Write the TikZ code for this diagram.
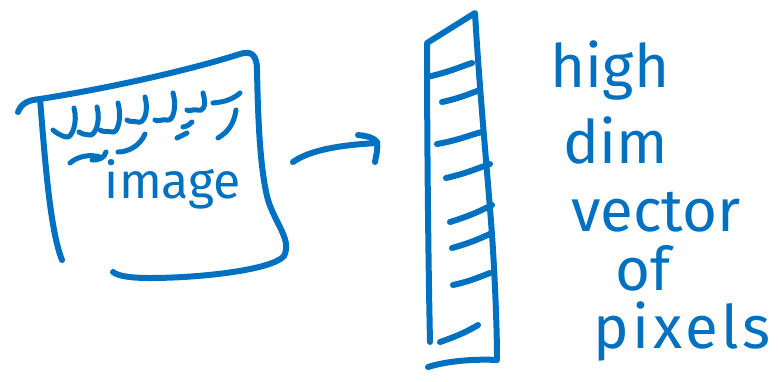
\documentclass[tikz,border=0pt]{standalone}
\usepackage{fontspec}
\setmainfont{Fira Sans}
\definecolor{ink}{RGB}{0,112,192}
\begin{document}
\begin{tikzpicture}[x=1pt,y=-1pt,
  pen/.style={draw=ink,line width=6pt,line cap=round,line join=round},
  thin pen/.style={draw=ink,line width=5pt,line cap=round,line join=round},
  hand/.style={text=ink,font=\fontsize{60}{60}\selectfont,anchor=base,inner sep=0pt}]
\useasboundingbox (0,0) rectangle (778,381);
% image sheet
\draw[pen] (18,112) .. controls (22,102) and (30,100) .. (40,99);
\draw[pen] (40,99) .. controls (45,160) and (50,230) .. (62,260);
\draw[pen] (40,99) .. controls (110,88) and (190,70) .. (240,54)
  .. controls (252,50) and (257,56) .. (257,70)
  .. controls (258,120) and (260,170) .. (268,200)
  .. controls (276,225) and (292,240) .. (284,256)
  .. controls (272,270) and (200,278) .. (150,278)
  .. controls (130,278) and (118,276) .. (113,272);
% squiggles row 1
\foreach \tx/\ty/\bx/\by/\lx/\ly in {74/108/66/137/53/130, 97/107/89/135/79/132, 118/103/112/132/100/130, 145/97/138/122/127/120, 173/93/167/120/155/120, 203/93/197/110/187/110}{
  \draw[thin pen] (\tx,\ty) .. controls (\tx+4,\ty+14) and (\bx+6,\by+2) .. (\bx,\by) .. controls (\bx-5,\by-1) and (\lx+2,\ly+2) .. (\lx,\ly);
}
\draw[thin pen] (213,103) .. controls (225,102) and (233,99) .. (240,93);
% squiggles row 2
\draw[thin pen] (70,163) .. controls (78,156) and (90,154) .. (100,157);
\draw[thin pen] (92,160) .. controls (100,160) and (104,158) .. (106,152);
\draw[thin pen] (118,152) .. controls (128,152) and (140,146) .. (145,134);
\draw[thin pen] (177,138) -- (187,133);
\draw[thin pen] (183,127) .. controls (188,126) and (190,124) .. (192,122);
\draw[thin pen] (218,138) .. controls (228,132) and (234,124) .. (236,110);
\node[hand,font=\fontsize{50}{50}\selectfont] (img) at (173,198) {image};
% arrow
\draw[pen] (293,162) .. controls (310,150) and (340,145) .. (377,143);
\draw[pen] (358,135) .. controls (368,136) and (374,138) .. (377,142) .. controls (378,150) and (376,156) .. (375,162);
% vector column
\draw[pen] (430,342) .. controls (428,250) and (427,120) .. (427,43)
  -- (475,13) .. controls (480,100) and (490,200) .. (493,250)
  .. controls (496,300) and (497,340) .. (497,358);
\draw[pen] (428,367) .. controls (450,360) and (480,359) .. (497,360);
\foreach \ax/\ay/\bx/\by in {427/77/472/63, 442/102/480/90, 437/144/482/132, 446/178/490/164, 450/222/492/205, 452/248/492/233, 453/285/490/273, 440/342/478/325}{
  \draw[pen] (\ax,\ay) .. controls ({(\ax+\bx)/2},{(\ay+\by)/2+2}) and ({(\ax+\bx)/2+10},{(\ay+\by)/2-3}) .. (\bx,\by);
}
% labels
\node[hand] (l1) at (610,87) {high};
\node[hand] (l2) at (616,163) {dim};
\node[hand] (l3) at (656,231) {vector};
\node[hand] (l4) at (643,290) {of};
\node[hand] (l5) at (682,348) {\addfontfeatures{LetterSpace=6}pixels};
\end{tikzpicture}
\end{document}
